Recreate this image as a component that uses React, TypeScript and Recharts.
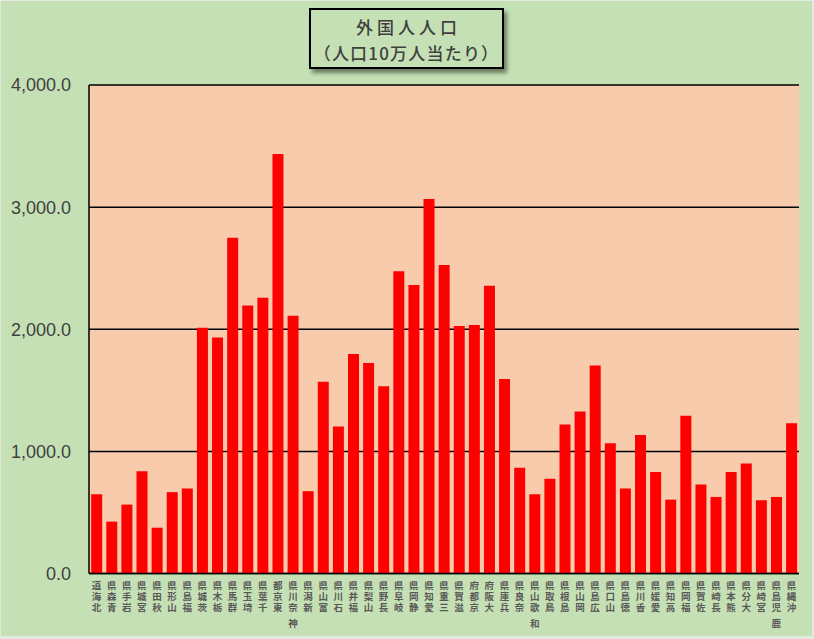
import React from 'react'
import { BarChart, Bar, XAxis, YAxis, CartesianGrid } from 'recharts'

// 都道府県別 外国人人口（人口10万人当たり）
const prefectures = [
  '北海道', '青森県', '岩手県', '宮城県', '秋田県', '山形県', '福島県',
  '茨城県', '栃木県', '群馬県', '埼玉県', '千葉県', '東京都', '神奈川県',
  '新潟県', '富山県', '石川県', '福井県', '山梨県', '長野県', '岐阜県',
  '静岡県', '愛知県', '三重県', '滋賀県', '京都府', '大阪府', '兵庫県',
  '奈良県', '和歌山県', '鳥取県', '島根県', '岡山県', '広島県', '山口県',
  '徳島県', '香川県', '愛媛県', '高知県', '福岡県', '佐賀県', '長崎県',
  '熊本県', '大分県', '宮崎県', '鹿児島県', '沖縄県',
]

const values = [
  649, 425, 564, 838, 375, 666, 695,
  2012, 1933, 2750, 2195, 2258, 3436, 2111,
  674, 1570, 1203, 1797, 1723, 1534, 2474,
  2362, 3067, 2526, 2026, 2034, 2357, 1592,
  865, 649, 775, 1220, 1326, 1703, 1067,
  695, 1135, 832, 605, 1291, 728, 627,
  832, 900, 600, 627, 1231,
]

const yTicks = [0, 1000, 2000, 3000, 4000]

const data = prefectures.map((name, i) => ({ name, value: values[i] }))

const GREEN = '#C5E0B4'
const PLOT = '#F8CBAD'
const TEXT = '#404040'
const JP = '"Noto Sans CJK JP", "Noto Sans", sans-serif'

const fmt = (v: number) =>
  v.toLocaleString('en-US', { minimumFractionDigits: 1, maximumFractionDigits: 1 })

// 縦書きラベル（下から上へ読む並び、4文字目は一段下に回る）
function StackedTick(props: any) {
  const { x, y, payload } = props
  const chars = String(payload.value).split('').reverse()
  const head = chars.slice(0, 3).join('')
  const tail = chars.slice(3).join('')
  const style: any = {
    writingMode: 'vertical-rl',
    textOrientation: 'upright',
    letterSpacing: '1.5px',
  }
  return (
    <g>
      <text
        x={x}
        y={y + 7}
        style={style}
        fontSize={9.5}
        fontWeight="bold"
        fontFamily={JP}
        fill="#595959"
      >
        {head}
      </text>
      {tail && (
        <text
          x={x}
          y={y + 45}
          style={style}
          fontSize={9.5}
          fontWeight="bold"
          fontFamily={JP}
          fill="#595959"
        >
          {tail}
        </text>
      )}
    </g>
  )
}

export default function App() {
  return (
    <div
      style={{
        position: 'absolute',
        left: 0,
        top: 0,
        width: 814,
        height: 639,
        background: '#E3E9DF',
      }}
    >
      <div
        style={{
          position: 'absolute',
          left: 1,
          top: 1,
          width: 811,
          height: 635,
          background: GREEN,
        }}
      />
      <div style={{ position: 'absolute', left: 0, top: 0 }}>
        <BarChart
          width={814}
          height={639}
          data={data}
          margin={{ top: 85, right: 15, bottom: 0, left: 9 }}
          barCategoryGap="14.5%"
        >
          <CartesianGrid
            vertical={false}
            stroke="#000"
            strokeWidth={1.5}
            fill={PLOT}
            fillOpacity={1}
          />
          <XAxis
            dataKey="name"
            interval={0}
            height={65.5}
            tickLine={false}
            tickSize={0}
            tickMargin={0}
            axisLine={{ stroke: '#000', strokeWidth: 1.5 }}
            tick={(p: any) => <StackedTick {...p} />}
          />
          <YAxis
            domain={[0, 4000]}
            ticks={yTicks}
            width={80}
            tickLine={false}
            tickSize={0}
            tickMargin={18}
            tickFormatter={fmt}
            axisLine={{ stroke: '#000', strokeWidth: 1.5 }}
            tick={{ fill: TEXT, fontSize: 18, fontFamily: '"Liberation Sans", Arial, sans-serif' }}
          />
          <YAxis
            yAxisId="r"
            orientation="right"
            domain={[0, 4000]}
            width={0}
            tick={false}
            tickLine={false}
            axisLine={{ stroke: '#000', strokeWidth: 1.5 }}
          />
          <Bar dataKey="value" fill="#FF0000" isAnimationActive={false} />
        </BarChart>
      </div>
      <div
        style={{
          position: 'absolute',
          left: 309,
          top: 8,
          width: 195,
          height: 61,
          boxSizing: 'border-box',
          border: '2px solid #000',
          boxShadow: '3px 4px 4px rgba(0,0,0,0.45)',
          fontFamily: JP,
          fontSize: 17,
          fontWeight: 500,
          color: TEXT,
          textAlign: 'center',
        }}
      >
        <div
          style={{
            position: 'absolute',
            left: 0,
            right: 0,
            top: 5,
            lineHeight: '24px',
            letterSpacing: 4,
            paddingLeft: 4,
          }}
        >
          外国人人口
        </div>
        <div
          style={{
            position: 'absolute',
            left: 0,
            right: 0,
            top: 31,
            lineHeight: '24px',
            letterSpacing: 1.2,
          }}
        >
          （人口10万人当たり）
        </div>
      </div>
    </div>
  )
}
